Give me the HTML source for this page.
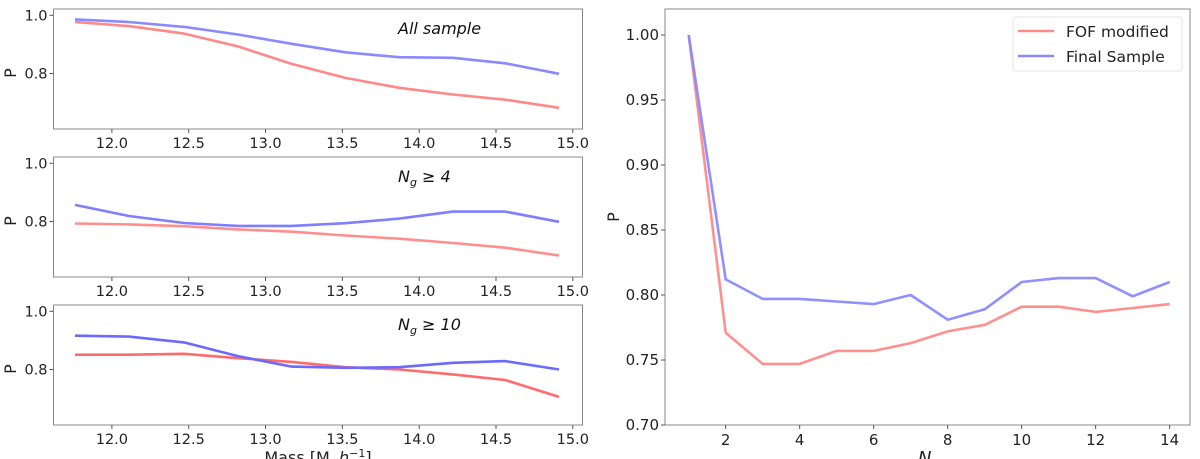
<!DOCTYPE html>
<html><head><meta charset="utf-8">
<style>
html,body{margin:0;padding:0;background:#fff;width:1200px;height:459px;overflow:hidden}
svg{display:block;font-family:"DejaVu Sans","Liberation Sans",sans-serif}
</style></head>
<body>
<svg id="chart" width="1200" height="459" viewBox="0 0 1200 459" xmlns="http://www.w3.org/2000/svg"></svg>
<script>
// ---- Data ----
const massBins = [11.76, 12.11, 12.47, 12.82, 13.17, 13.52, 13.87, 14.22, 14.56, 14.91];
const allFOF   = [0.977, 0.963, 0.937, 0.893, 0.833, 0.785, 0.751, 0.728, 0.710, 0.682];
const allFinal = [0.986, 0.977, 0.960, 0.934, 0.902, 0.873, 0.856, 0.854, 0.835, 0.799];
const ng4FOF   = [0.793, 0.790, 0.784, 0.773, 0.765, 0.752, 0.741, 0.726, 0.710, 0.683];
const ng4Final = [0.857, 0.819, 0.795, 0.785, 0.785, 0.794, 0.810, 0.834, 0.834, 0.799];
const ng10FOF  = [0.851, 0.851, 0.854, 0.839, 0.826, 0.808, 0.800, 0.783, 0.764, 0.706];
const ng10Final= [0.916, 0.913, 0.893, 0.846, 0.810, 0.806, 0.808, 0.823, 0.829, 0.800];
const massTicks = [12.0, 12.5, 13.0, 13.5, 14.0, 14.5, 15.0];
const pTicksLeft = [0.8, 1.0];
const panelTitles = ["All sample", "N_g ≥ 4", "N_g ≥ 10"];
const ngValues = [1,2,3,4,5,6,7,8,9,10,11,12,13,14];
const ngFOF   = [1.0, 0.771, 0.747, 0.747, 0.757, 0.757, 0.763, 0.772, 0.777, 0.791, 0.791, 0.787, 0.790, 0.793];
const ngFinal = [1.0, 0.812, 0.797, 0.797, 0.795, 0.793, 0.800, 0.781, 0.789, 0.810, 0.813, 0.813, 0.799, 0.810];
const ngTicks = [2,4,6,8,10,12,14];
const pTicksRight = [0.70,0.75,0.80,0.85,0.90,0.95,1.00];

const NS = "http://www.w3.org/2000/svg";
const svg = document.getElementById("chart");
function mk(tag, attrs, parent){ const e=document.createElementNS(NS,tag); for(const k in attrs) e.setAttribute(k,attrs[k]); (parent||svg).appendChild(e); return e; }
function lin(d0,d1,r0,r1){ return v => r0 + (v-d0)/(d1-d0)*(r1-r0); }

// ---- Left panels ----
const LX0=53.5, LX1=582.5;
const xm = lin(11.62, 15.063, LX0, LX1);
const tops=[9,157,305];
const seriesSets=[[allFOF,allFinal],[ng4FOF,ng4Final],[ng10FOF,ng10Final]];
const redC=["#ff8888","#ff8f8f","#ff6b6b"], blueC=["#8a8aff","#7f7fff","#6a6aff"];
tops.forEach((top,i)=>{
  const g=mk("g",{});
  
  
  const ym = lin(1.0, 0.8, top+6.3, top+64.5);
  const fr=mk("rect",{x:LX0,y:top,width:LX1-LX0,height:120,fill:"none",stroke:"#888","stroke-width":1},g);
  
  
  massTicks.forEach(t=>{
    const x=xm(t);
    mk("line",{x1:x,x2:x,y1:top+120,y2:top+124,stroke:"#555"},g);
    const tx=mk("text",{x:x,y:top+139,"font-size":14.5,"text-anchor":"middle",fill:"#222"},g);
    tx.textContent=t.toFixed(1);
    
    
  });
  pTicksLeft.forEach(t=>{
    const y=ym(t);
    mk("line",{x1:LX0-4,x2:LX0,y1:y,y2:y,stroke:"#555"},g);
    const tx=mk("text",{x:LX0-6,y:y+5,"font-size":14.5,"text-anchor":"end",fill:"#222"},g);
    tx.textContent=t.toFixed(1);
    
    
  });
  const yl=mk("text",{x:0,y:0,"font-size":16,"text-anchor":"middle",fill:"#222",transform:`translate(16,${top+64}) rotate(-90)`},g);
  yl.textContent="P";
  
  
  const title=mk("text",{x:398,y:top+25,"font-size":16,"font-style":"italic",fill:"#111"},g);
  if(i===0){ title.textContent=panelTitles[0]; }
  else {
    const a=mk("tspan",{},title); a.textContent="N";
    const b=mk("tspan",{dy:4,"font-size":11},title); b.textContent="g";
    const c=mk("tspan",{dy:-4},title); c.textContent=" ≥ "+(i===1?"4":"10");
  }
  
  
  const names=["fof-modified-line","final-sample-line"];
  seriesSets[i].forEach((s,j)=>{
    const pts=s.map((v,k)=>xm(massBins[k]).toFixed(1)+","+ym(v).toFixed(1)).join(" ");
    const pl=mk("polyline",{points:pts,fill:"none",stroke:j===0?redC[i]:blueC[i],"stroke-width":2.6,"stroke-linejoin":"round"},g);
    
    
  });
});
const xl=mk("text",{x:318,y:463,"font-size":16,"text-anchor":"middle",fill:"#222"});
xl.innerHTML='Mass [M<tspan font-size="11" dy="3">⊙</tspan><tspan dy="-3" font-style="italic">h</tspan><tspan font-size="11" dy="-6">−1</tspan><tspan dy="6">]</tspan>';



// ---- Right panel ----
const RX0=665,RX1=1190,RY0=9,RY1=425;
const xr=lin(0.36,14.55,RX0,RX1), yr=lin(0.70,1.02,425,9);
const rg=mk("g",{});


const rf=mk("rect",{x:RX0,y:RY0,width:RX1-RX0,height:RY1-RY0,fill:"none",stroke:"#888"},rg);


ngTicks.forEach(t=>{
  const x=xr(t);
  mk("line",{x1:x,x2:x,y1:RY1,y2:RY1+4,stroke:"#555"},rg);
  const tx=mk("text",{x:x,y:RY1+20,"font-size":15,"text-anchor":"middle",fill:"#222"},rg);
  tx.textContent=t;
  
  
});
pTicksRight.forEach(t=>{
  const y=yr(t);
  mk("line",{x1:RX0-4,x2:RX0,y1:y,y2:y,stroke:"#555"},rg);
  const tx=mk("text",{x:RX0-6,y:y+5,"font-size":15,"text-anchor":"end",fill:"#222"},rg);
  tx.textContent=t.toFixed(2);
  
  
});
const ryl=mk("text",{x:0,y:0,"font-size":16,"text-anchor":"middle",fill:"#222",transform:"translate(619,217) rotate(-90)"},rg);
ryl.textContent="P";


const rxl=mk("text",{x:918,y:464,"font-size":18,"font-style":"italic",fill:"#222"},rg);
rxl.innerHTML='N<tspan font-size="12" dy="4">g</tspan>';


[[ngFOF,"#ff8a8a","fof-modified-line"],[ngFinal,"#8a8aff","final-sample-line"]].forEach(([s,c,n])=>{
  const pts=s.map((v,k)=>xr(ngValues[k]).toFixed(1)+","+yr(v).toFixed(1)).join(" ");
  const pl=mk("polyline",{points:pts,fill:"none",stroke:c,"stroke-width":2.6,"stroke-linejoin":"round","stroke-opacity":0.95},rg);
  
  
});
// legend
const lg=mk("g",{},rg);


mk("rect",{x:1013,y:17,width:169,height:54,rx:3,fill:"#fff",stroke:"#e4e4e4"},lg);
[["FOF modified","#ff8a8a",31],["Final Sample","#8a8aff",56]].forEach(([t,c,y])=>{
  const e=mk("g",{},lg);
  
  
  mk("line",{x1:1018,x2:1054,y1:y,y2:y,stroke:c,"stroke-width":2.6},e);
  const tx=mk("text",{x:1066,y:y+6,"font-size":15.5,fill:"#222"},e);
  tx.textContent=t;
});
</script>
</body></html>
